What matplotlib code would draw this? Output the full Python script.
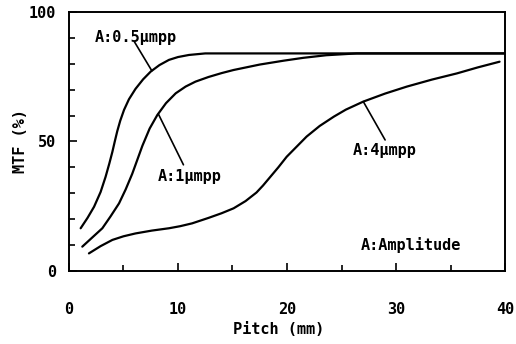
import numpy as np
import matplotlib
matplotlib.use("Agg")
import matplotlib.pyplot as plt

# curves
x_05 = [1.07, 1.7, 2.3, 2.9, 3.36, 3.7, 3.98, 4.2, 4.43, 4.7, 5.05, 5.5, 6.1, 6.8, 7.5, 8.3, 9.17, 10.0, 11.0, 12.5, 20, 30, 40]
y_05 = [16.5, 20.5, 24.8, 30.5, 36.4, 41.5, 46.0, 50.0, 54.0, 58.0, 62.2, 66.3, 70.3, 74.0, 77.0, 79.5, 81.5, 82.6, 83.4, 84.0, 84.0, 84.0, 84.0]

x_1 = [1.22, 2.1, 3.06, 3.8, 4.59, 5.2, 5.8, 6.3, 6.73, 7.4, 8.1, 8.9, 9.79, 10.7, 11.6, 12.8, 14.0, 15.1, 17.5, 19.7, 21.5, 23.6, 26.4, 30, 35, 40]
y_1 = [9.4, 12.8, 16.5, 21.0, 26.1, 31.5, 37.5, 43.3, 48.3, 55.0, 60.2, 64.8, 68.6, 71.2, 73.1, 74.9, 76.4, 77.6, 79.7, 81.2, 82.3, 83.3, 84.0, 84.0, 84.0, 84.0]

x_4 = [1.83, 2.9, 3.98, 5.0, 6.1, 7.6, 9.17, 10.2, 11.3, 12.8, 14.0, 15.1, 16.2, 17.2, 17.8, 18.4, 19.2, 19.97, 21.8, 23.0, 24.3, 25.4, 27.0, 29.0, 31.0, 33.3, 35.6, 37.5, 39.5]
y_4 = [6.8, 9.6, 12.0, 13.4, 14.5, 15.6, 16.5, 17.3, 18.4, 20.5, 22.3, 24.2, 27.0, 30.3, 33.0, 36.0, 40.0, 44.1, 51.9, 56.0, 59.6, 62.3, 65.4, 68.5, 71.2, 73.9, 76.3, 78.6, 80.8]

plt.rcParams['font.family'] = 'DejaVu Sans Mono'
plt.rcParams['font.weight'] = 'bold'

fig = plt.figure(figsize=(5.16, 3.44), dpi=100)
ax = fig.add_axes([0.1337, 0.2122, 0.845, 0.753])

for xs, ys in [(x_05, y_05), (x_1, y_1), (x_4, y_4)]:
    ax.plot(xs, ys, color='black', lw=1.6, solid_capstyle='round', solid_joinstyle='round')

ax.set_xlim(0, 40)
ax.set_ylim(0, 100)
ax.set_xticks([0, 10, 20, 30, 40])
ax.set_xticks([5, 15, 25, 35], minor=True)
ax.set_yticks([0, 50, 100])
ax.set_yticks([10, 20, 30, 40, 60, 70, 80, 90], minor=True)
ax.tick_params(which='both', direction='in', width=1.2, labelsize=11)
ax.tick_params(which='major', length=6)
ax.tick_params(which='minor', length=4)
ax.tick_params(axis='x', which='major', pad=22)
ax.tick_params(axis='y', which='major', pad=9)
for s in ax.spines.values():
    s.set_linewidth(1.4)

ax.set_xlabel('Pitch (mm)', fontsize=11, fontweight='bold')
ax.xaxis.set_label_coords(0.48, -0.195)
ax.set_ylabel('MTF (%)', fontsize=11, fontweight='bold', labelpad=1)

lp = dict(arrowstyle='-', color='black', lw=1.2, shrinkA=0, shrinkB=0)
ax.annotate('', xy=(7.6, 77.3), xytext=(6.0, 88.5), arrowprops=lp)
ax.text(2.4, 90, 'A:0.5μmpp', fontsize=11, va='center')
ax.annotate('', xy=(8.2, 60.6), xytext=(10.5, 41), arrowprops=lp)
ax.text(8.1, 36.3, 'A:1μmpp', fontsize=11, va='center')
ax.annotate('', xy=(27, 65.4), xytext=(29, 50.6), arrowprops=lp)
ax.text(26, 46.7, 'A:4μmpp', fontsize=11, va='center')
ax.text(26.8, 10, 'A:Amplitude', fontsize=11, va='center')

fig.savefig('out.png', dpi=100)
